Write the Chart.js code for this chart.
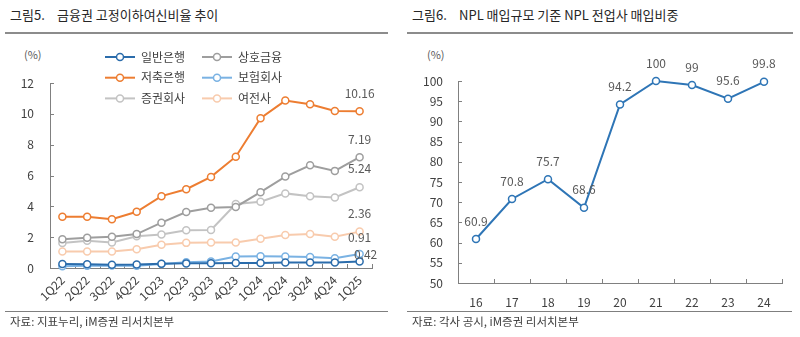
<!DOCTYPE html>
<html>
<head>
<meta charset="utf-8">
<script src="https://cdn.jsdelivr.net/npm/chart.js@4.4.1/dist/chart.umd.min.js"></script>
<style>
  body { margin: 0; width: 800px; height: 337px; position: relative; background: #fff; overflow: hidden;
         font-family: 'Noto Sans CJK KR', 'Noto Sans', sans-serif; color: #333; }
  .txt { position: absolute; white-space: pre; line-height: 1; }
  .title { font-size: 13px; color: #262626; }
  .foot { font-size: 11.5px; color: #404040; }
  .unit { font-size: 11px; color: #595959; }
  .rule { position: absolute; background: #8c8c8c; }
  canvas { position: absolute; top: 0; }
</style>
</head>
<body>
<div class="txt title" style="left:10px;top:8px">그림5.</div>
<div class="txt title" style="left:57px;top:8px">금융권 고정이하여신비율 추이</div>
<div class="rule" style="left:5px;top:32px;width:383px;height:2px"></div>
<div class="txt title" style="left:412px;top:8px">그림6.</div>
<div class="txt title" style="left:459px;top:8px">NPL 매입규모 기준 NPL 전업사 매입비중</div>
<div class="rule" style="left:407px;top:32px;width:386px;height:2px"></div>

<div class="txt unit" style="left:24px;top:49px">(%)</div>
<div class="txt unit" style="left:427px;top:49px">(%)</div>

<canvas id="leftChart" width="400" height="337" style="left:0"></canvas>
<canvas id="rightChart" width="400" height="337" style="left:400px"></canvas>

<div class="rule" style="left:5px;top:311px;width:383px;height:1px;background:#7f7f7f"></div>
<div class="rule" style="left:407px;top:311px;width:385px;height:1px;background:#7f7f7f"></div>
<div class="txt foot" style="left:10px;top:316px">자료: 지표누리, iM증권 리서치본부</div>
<div class="txt foot" style="left:412px;top:316px">자료: 각사 공시, iM증권 리서치본부</div>

<script>
// ---- left chart data: 금융권 고정이하여신비율 (%)
const quarters = ['1Q22','2Q22','3Q22','4Q22','1Q23','2Q23','3Q23','4Q23','1Q24','2Q24','3Q24','4Q24','1Q25'];
const generalBank  = [0.26, 0.25, 0.21, 0.22, 0.27, 0.30, 0.31, 0.32, 0.33, 0.36, 0.35, 0.35, 0.42];
const mutualFin    = [1.87, 1.96, 2.02, 2.20, 2.94, 3.63, 3.91, 3.96, 4.92, 5.93, 6.66, 6.30, 7.19];
const savingsBank  = [3.33, 3.33, 3.16, 3.65, 4.66, 5.11, 5.91, 7.22, 9.72, 10.86, 10.62, 10.18, 10.16];
const insurance    = [0.12, 0.14, 0.16, 0.14, 0.26, 0.38, 0.42, 0.75, 0.76, 0.75, 0.71, 0.64, 0.91];
const securities   = [1.62, 1.76, 1.65, 2.06, 2.17, 2.45, 2.47, 4.15, 4.30, 4.84, 4.66, 4.57, 5.24];
const cardCapital  = [1.07, 1.07, 1.07, 1.21, 1.51, 1.63, 1.65, 1.65, 1.89, 2.14, 2.21, 2.03, 2.36];
const leftNames = ['일반은행','상호금융','저축은행','보험회사','증권회사','여전사'];
const leftTicks = [0, 2, 4, 6, 8, 10, 12];

// ---- right chart data: NPL 전업사 매입비중 (%)
const years = ['16','17','18','19','20','21','22','23','24'];
const nplShare = [60.9, 70.8, 75.7, 68.6, 94.2, 100, 99, 95.6, 99.8];
const rightTicks = [50, 55, 60, 65, 70, 75, 80, 85, 90, 95, 100];

Chart.defaults.font.family = "'Noto Sans CJK KR', 'Noto Sans', sans-serif";
Chart.defaults.font.size = 12;
Chart.defaults.color = '#404040';
Chart.defaults.animation = false;

const leftColors = ['#2b6cab', '#9e9e9e', '#ed7d31', '#7ab2e3', '#c3c3c3', '#f8cbad'];
const leftSeries = [generalBank, mutualFin, savingsBank, insurance, securities, cardCapital];
// label tweak for the last point (dx, dy above point)
const lastLabelShift = [[6, 7], [0, 18], [0, 18], [0, 17], [0, 19], [0, 18]];

function lineSet(label, data, color) {
  return {
    label: label,
    data: data,
    borderColor: color,
    backgroundColor: '#fff',
    borderWidth: 2,
    pointRadius: 3.5,
    pointBorderWidth: 1.5,
    pointBackgroundColor: '#fff',
    pointBorderColor: color,
    tension: 0,
    clip: false
  };
}

// small tick marks pointing into the plot
const innerTicks = {
  id: 'innerTicks',
  beforeDatasetsDraw(chart) {
    const ctx = chart.ctx, xs = chart.scales.x, ys = chart.scales.y;
    ctx.save();
    ctx.strokeStyle = '#808080';
    ctx.lineWidth = 1;
    ctx.beginPath();
    ys.ticks.forEach(t => {
      const py = Math.round(ys.getPixelForValue(t.value)) + 0.5;
      ctx.moveTo(xs.left, py);
      ctx.lineTo(xs.left + 4, py);
    });
    const n = xs.ticks.length;
    for (let i = 1; i <= n; i++) {
      const px = Math.round(xs.left + i * xs.width / n) + 0.5;
      ctx.moveTo(px, ys.bottom);
      ctx.lineTo(px, ys.bottom - 4);
    }
    ctx.stroke();
    ctx.restore();
  }
};

const lastLabels = {
  id: 'lastLabels',
  afterDatasetsDraw(chart) {
    const ctx = chart.ctx;
    ctx.save();
    ctx.font = "12px 'Noto Sans CJK KR', 'Noto Sans', sans-serif";
    ctx.fillStyle = '#595959';
    ctx.textAlign = 'center';
    ctx.textBaseline = 'middle';
    chart.data.datasets.forEach((ds, i) => {
      const meta = chart.getDatasetMeta(i);
      const last = ds.data.length - 1;
      const pt = meta.data[last];
      ctx.fillText(ds.data[last].toFixed(2), pt.x + lastLabelShift[i][0], pt.y - lastLabelShift[i][1]);
    });
    ctx.restore();
  }
};

const gridLegend = {
  id: 'gridLegend',
  afterDraw(chart) {
    const ctx = chart.ctx;
    ctx.save();
    ctx.font = "12px 'Noto Sans CJK KR', 'Noto Sans', sans-serif";
    ctx.textBaseline = 'middle';
    chart.data.datasets.forEach((ds, i) => {
      const col = i % 2, row = Math.floor(i / 2);
      const x0 = 105 + col * 97, y = 57 + row * 20.7;
      ctx.strokeStyle = ds.borderColor;
      ctx.lineWidth = 2;
      ctx.beginPath();
      ctx.moveTo(x0, y);
      ctx.lineTo(x0 + 30, y);
      ctx.stroke();
      ctx.beginPath();
      ctx.arc(x0 + 15, y, 3.5, 0, Math.PI * 2);
      ctx.fillStyle = '#fff';
      ctx.fill();
      ctx.lineWidth = 1.5;
      ctx.stroke();
      ctx.fillStyle = '#404040';
      ctx.fillText(ds.label, x0 + 36, y);
    });
    ctx.restore();
  }
};

const allLabels = {
  id: 'allLabels',
  afterDatasetsDraw(chart) {
    const ctx = chart.ctx;
    const meta = chart.getDatasetMeta(0);
    ctx.save();
    ctx.font = "12px 'Noto Sans CJK KR', 'Noto Sans', sans-serif";
    ctx.fillStyle = '#595959';
    ctx.textAlign = 'center';
    ctx.textBaseline = 'middle';
    chart.data.datasets[0].data.forEach((v, i) => {
      const pt = meta.data[i];
      ctx.fillText(String(v), pt.x, pt.y - 18);
    });
    ctx.restore();
  }
};

// ---------- left chart
let leftCtx = document.getElementById('leftChart').getContext('2d');
let leftDatasets = leftNames.map((name, i) => lineSet(name, leftSeries[i], leftColors[i]));
// draw order: light ones first so the stronger lines stay on top
leftDatasets.forEach((ds, i) => { ds.order = [1, 4, 0, 2, 5, 3][i]; });

const leftChart = new Chart(leftCtx, {
  type: 'line',
  data: { labels: quarters, datasets: leftDatasets },
  options: {
    responsive: false,
    layout: { padding: { left: 0, right: 28, top: 83, bottom: 25 } },
    plugins: { legend: { display: false }, tooltip: { enabled: false } },
    scales: {
      x: {
        offset: true,
        grid: { display: false, drawTicks: false },
        border: { color: '#808080', width: 1 },
        ticks: { maxRotation: 45, minRotation: 45, padding: 5, color: '#404040', autoSkip: false },
        afterFit: s => { s.height = 44; }
      },
      y: {
        min: 0, max: 12,
        afterBuildTicks: s => { s.ticks = leftTicks.map(v => ({ value: v })); },
        grid: { display: false, drawTicks: false },
        border: { color: '#808080', width: 1 },
        ticks: { padding: 16, color: '#404040' },
        afterFit: s => { s.width = 50; }
      }
    }
  },
  plugins: [innerTicks, lastLabels, gridLegend]
});

// ---------- right chart
let rightCtx = document.getElementById('rightChart').getContext('2d');
const rightChart = new Chart(rightCtx, {
  type: 'line',
  data: { labels: years, datasets: [lineSet('NPL 전업사 매입비중', nplShare, '#2e75b6')] },
  options: {
    responsive: false,
    layout: { padding: { left: 0, right: 18, top: 81, bottom: 26 } },
    plugins: { legend: { display: false }, tooltip: { enabled: false } },
    scales: {
      x: {
        offset: true,
        grid: { display: false, drawTicks: false },
        border: { color: '#808080', width: 1 },
        ticks: { padding: 12, color: '#404040' },
        afterFit: s => { s.height = 28; }
      },
      y: {
        min: 50, max: 100,
        afterBuildTicks: s => { s.ticks = rightTicks.map(v => ({ value: v })); },
        grid: { display: false, drawTicks: false },
        border: { color: '#808080', width: 1 },
        ticks: { padding: 15, color: '#404040' },
        afterFit: s => { s.width = 58; }
      }
    }
  },
  plugins: [innerTicks, allLabels]
});
</script>
</body>
</html>
